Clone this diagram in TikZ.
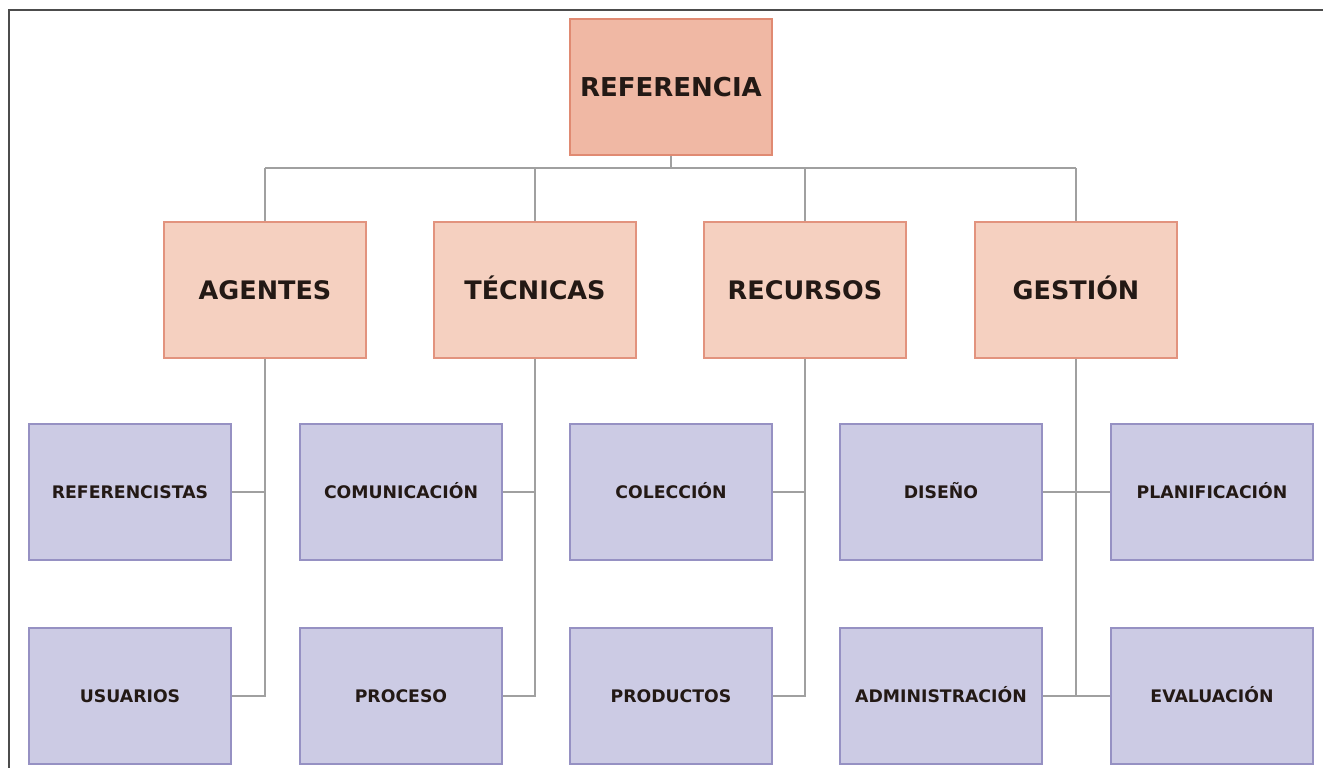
\documentclass[tikz,border=0pt]{standalone}
\usepackage{fontspec}
\setmainfont{DejaVu Sans}
\definecolor{topfill}{HTML}{F0B8A4}
\definecolor{topdraw}{HTML}{E08A72}
\definecolor{midfill}{HTML}{F5D0C0}
\definecolor{middraw}{HTML}{E2937E}
\definecolor{lowfill}{HTML}{CCCBE4}
\definecolor{lowdraw}{HTML}{9691C3}
\definecolor{linec}{HTML}{A0A0A0}
\definecolor{txt}{HTML}{231915}
\begin{document}
\begin{tikzpicture}[x=1pt,y=-1pt,
  box/.style={rectangle, minimum width=202pt, minimum height=136pt, inner sep=0pt, line width=1.8pt, text=txt, text depth=0pt},
  topbox/.style={box, fill=topfill, draw=topdraw, text height=19pt, font=\fontsize{26}{30}\selectfont\bfseries},
  midbox/.style={box, fill=midfill, draw=middraw, text height=18.6pt, font=\fontsize{25.5}{30}\selectfont\bfseries},
  lowbox/.style={box, fill=lowfill, draw=lowdraw, text height=12.6pt, font=\fontsize{17.3}{20}\selectfont\bfseries},
  conn/.style={draw=linec, line width=1.5pt},
  frame/.style={draw=black!70, line width=2pt}]
\useasboundingbox (0,0) rectangle (1323,768);
\draw[frame] (9,768) -- (9,10) -- (1323,10);

\node[topbox] (ref) at (671,87) {REFERENCIA};

\node[midbox] (agentes) at (265,290) {AGENTES};
\node[midbox] (tecnicas) at (535,290) {TÉCNICAS};
\node[midbox] (recursos) at (805,290) {RECURSOS};
\node[midbox] (gestion) at (1076,290) {GESTIÓN};

\node[lowbox] (referencistas) at (130,492) {REFERENCISTAS};
\node[lowbox] (usuarios) at (130,696) {USUARIOS};
\node[lowbox] (comunicacion) at (401,492) {COMUNICACIÓN};
\node[lowbox] (proceso) at (401,696) {PROCESO};
\node[lowbox] (coleccion) at (671,492) {COLECCIÓN};
\node[lowbox] (productos) at (671,696) {PRODUCTOS};
\node[lowbox] (diseno) at (941,492) {DISEÑO};
\node[lowbox] (administracion) at (941,696) {ADMINISTRACIÓN};
\node[lowbox] (planificacion) at (1212,492) {PLANIFICACIÓN};
\node[lowbox] (evaluacion) at (1212,696) {EVALUACIÓN};

\coordinate (bus) at (0,168);
\draw[conn] (ref.south) -- (ref.south |- bus);
\draw[conn] (agentes.north |- bus) -- (gestion.north |- bus);
\foreach \n in {agentes,tecnicas,recursos,gestion}
  \draw[conn] (\n.north |- bus) -- (\n.north);

\draw[conn] (agentes.south) |- (usuarios.east);
\draw[conn] (referencistas.east) -- (referencistas.east -| agentes.south);
\draw[conn] (tecnicas.south) |- (proceso.east);
\draw[conn] (comunicacion.east) -- (comunicacion.east -| tecnicas.south);
\draw[conn] (recursos.south) |- (productos.east);
\draw[conn] (coleccion.east) -- (coleccion.east -| recursos.south);
\draw[conn] (gestion.south) -- (gestion.south |- evaluacion.west);
\draw[conn] (diseno.east) -- (planificacion.west);
\draw[conn] (administracion.east) -- (evaluacion.west);
\end{tikzpicture}
\end{document}
